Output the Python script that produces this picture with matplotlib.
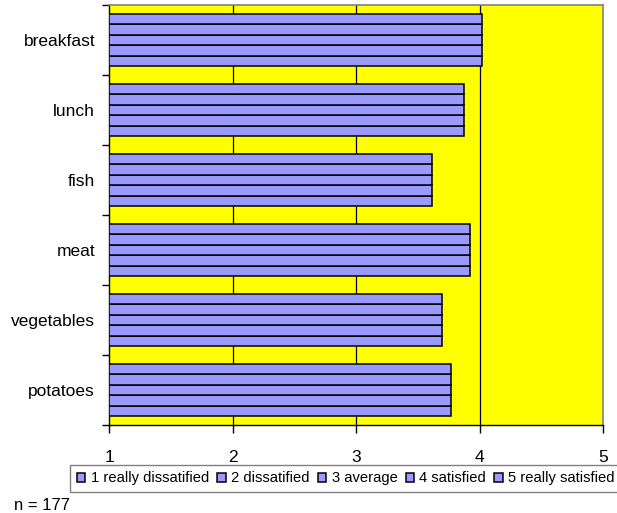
import matplotlib.pyplot as plt
import numpy as np

# Satisfaction scores per meal item (mean rating, 1..5)
categories = ['breakfast', 'lunch', 'fish', 'meat', 'vegetables', 'potatoes']
series_names = ['1 really dissatified', '2 dissatified', '3 average',
                '4 satisfied', '5 really satisfied']
scores = [4.02, 3.875, 3.615, 3.918, 3.697, 3.765]
series_values = [scores for _ in series_names]
x_ticks = [1, 2, 3, 4, 5]

plt.rcParams['font.family'] = ['Liberation Sans', 'DejaVu Sans']

fig = plt.figure(figsize=(6.17, 5.13), dpi=100)
ax = fig.add_axes([109 / 617, 1 - 425 / 513, (603.3 - 109) / 617, (425 - 5) / 513])
ax.set_facecolor('#FFFF00')

n_cat = len(categories)
n_ser = len(series_names)
group_h = 0.757
bar_h = group_h / n_ser
# first category sits at the top
ypos = np.arange(n_cat)[::-1]

for i, (name, vals) in enumerate(zip(series_names, series_values)):
    offs = -group_h / 2 + bar_h * (i + 0.5)
    ax.barh(ypos + offs, np.array(vals) - 1, left=1, height=bar_h,
            color='#9999FF', edgecolor='black', linewidth=1.1,
            label=name, zorder=3)

ax.set_xlim(1, 5)
ax.set_ylim(-0.5, n_cat - 0.5)
ax.set_xticks(x_ticks)
ax.set_xticklabels([str(t) for t in x_ticks], fontsize=12.5)
ax.set_yticks(np.arange(n_cat + 1) - 0.5, minor=False)
ax.set_yticklabels([])
ax.set_yticks(ypos, minor=True)
ax.set_yticklabels(categories, minor=True, fontsize=12.5)
ax.tick_params(axis='y', which='minor', length=0, pad=10)
ax.tick_params(axis='y', which='major', length=5, direction='out', width=1)
ax.tick_params(axis='x', length=6, direction='out', width=1, pad=12)

for g in x_ticks[1:-1]:
    ax.axvline(g, color='black', linewidth=0.9, zorder=1)

for s in ['top', 'right']:
    ax.spines[s].set_color('#808080')
    ax.spines[s].set_linewidth(1.2)
for s in ['left', 'bottom']:
    ax.spines[s].set_color('black')
    ax.spines[s].set_linewidth(1.0)

leg = fig.legend(loc='lower left', bbox_to_anchor=(70 / 617, 1 - 492 / 513),
                 ncol=5, fontsize=10.6, frameon=True, fancybox=False,
                 handlelength=0.6, handleheight=0.6, handletextpad=0.35,
                 columnspacing=0.55, borderpad=0.45, borderaxespad=0)
leg.get_frame().set_edgecolor('#606060')
leg.get_frame().set_linewidth(1.0)

fig.text(14 / 617, 1 - 506 / 513, 'n = 177', fontsize=12, va='center')

fig.savefig('out.png', dpi=100)
